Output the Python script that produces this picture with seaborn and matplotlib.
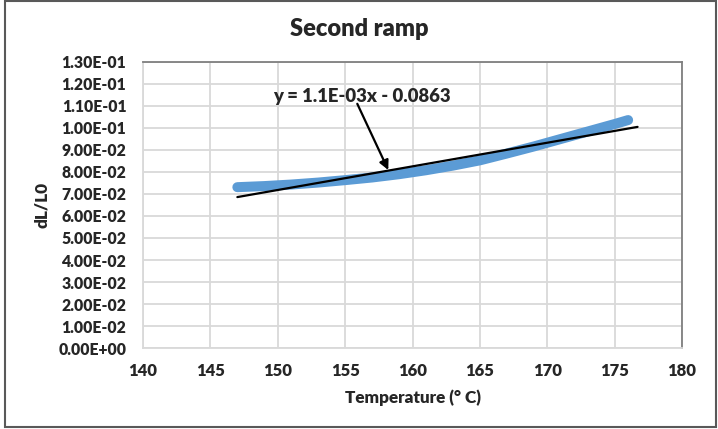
import matplotlib
matplotlib.use("Agg")
import matplotlib.pyplot as plt
import matplotlib.patches as mpatches
from matplotlib.ticker import FuncFormatter, MultipleLocator
import seaborn as sns
import pandas as pd

# values
temperature = [147, 149, 151, 153, 155, 157, 159, 161, 163, 165, 167, 169, 171, 173, 175, 176]
dl_l0 = [0.0731, 0.0736, 0.0743, 0.0752, 0.0763, 0.0775, 0.0790, 0.0808, 0.0829,
         0.0853, 0.0884, 0.0916, 0.0950, 0.0984, 0.1018, 0.1036]

# linear trendline as drawn in the chart
trend_x = [147, 176.7]
trend_y = [0.0686, 0.1005]
trend_label = "y = 1.1E-03x - 0.0863"

x_ticks = [140, 145, 150, 155, 160, 165, 170, 175, 180]

sns.set_style("white")
plt.rcParams['font.family'] = ['Lato', 'DejaVu Sans']
W = 'heavy'

df = pd.DataFrame({'T': temperature, 'dL': dl_l0})
trend = pd.DataFrame({'T': trend_x, 'dL': trend_y})

fig = plt.figure(figsize=(7.18, 4.29), dpi=100)
ax = fig.add_axes([0.1992, 0.1888, 0.7507, 0.6667])

sns.lineplot(data=df, x='T', y='dL', ax=ax, color='#5B9BD5', linewidth=7.2,
             solid_capstyle='round', zorder=3)
sns.lineplot(data=trend, x='T', y='dL', ax=ax, color='black', linewidth=1.6, zorder=4)

ax.set_xlim(140, 180)
ax.set_ylim(0, 0.13)
ax.set_xticks(x_ticks)
ax.yaxis.set_major_locator(MultipleLocator(0.01))
ax.yaxis.set_major_formatter(FuncFormatter(lambda v, p: f"{v:.2E}"))
ax.grid(True, color='#d9d9d9', linewidth=1.3)
ax.set_axisbelow(True)
ax.tick_params(axis='both', length=0)
ax.tick_params(axis='y', pad=12, labelsize=11.3)
ax.tick_params(axis='x', pad=11, labelsize=12)
for lbl in ax.get_xticklabels() + ax.get_yticklabels():
    lbl.set_fontweight(W)

for side in ['top', 'right']:
    ax.spines[side].set_color('#7f7f7f')
    ax.spines[side].set_linewidth(1.3)
for side in ['left', 'bottom']:
    ax.spines[side].set_color('#d9d9d9')
    ax.spines[side].set_linewidth(1.3)

ax.set_xlabel('Temperature (° C)', fontsize=12.3, fontweight=W, labelpad=7)
ax.set_ylabel('dL/L0', fontsize=12.3, fontweight=W, labelpad=6)
fig.suptitle('Second ramp', x=0.5, y=0.958, fontsize=17, fontweight=W)

# trendline equation with arrow
ax.text(156.25, 0.1141, trend_label, ha='center', va='center', fontsize=13.3,
        fontweight=W, zorder=5)
ax.annotate('', xy=(158.2, 0.0809), xytext=(155.9, 0.1110),
            arrowprops=dict(arrowstyle='-|>', color='black', lw=1.6,
                            mutation_scale=14, shrinkA=0, shrinkB=0), zorder=5)

# chart border
fig.patches.append(mpatches.Rectangle((0.007, 0.005), 0.99, 0.993, transform=fig.transFigure,
                                      fill=False, edgecolor='#595959', linewidth=1.5))

fig.savefig('out.png', dpi=100)
